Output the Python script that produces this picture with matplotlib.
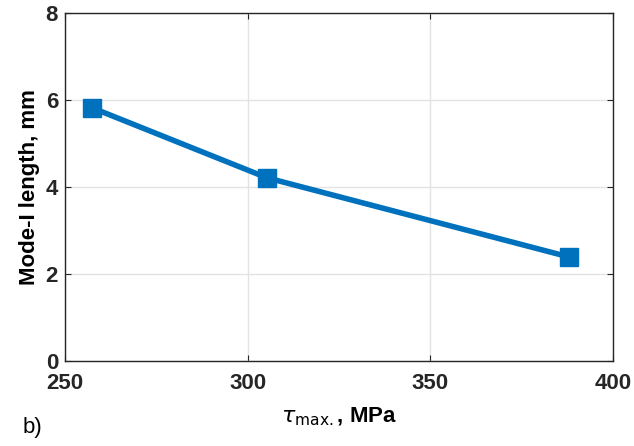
import matplotlib.pyplot as plt

plt.rcParams['font.family'] = ['Liberation Sans', 'DejaVu Sans']

tau_max = [257.4, 305.3, 388.0]
mode_length = [5.82, 4.21, 2.39]
x_ticks = [250, 300, 350, 400]
y_ticks = [0, 2, 4, 6, 8]

fig = plt.figure(figsize=(6.34, 4.46), dpi=100)
ax = fig.add_axes([0.1025, 0.1906, 0.8645, 0.7804])

ax.plot(tau_max, mode_length, color='#0072BD', lw=4, marker='s',
        markersize=13, markerfacecolor='#0072BD', markeredgecolor='#0072BD')

ax.set_xlim(250, 400)
ax.set_ylim(0, 8)
ax.set_xticks(x_ticks)
ax.set_yticks(y_ticks)
ax.grid(True, color='#e3e3e3', lw=1)
ax.set_axisbelow(True)
ax.tick_params(direction='in', top=True, right=True, length=4,
               labelsize=16, colors='#262626')
ax.tick_params(axis='x', pad=9)
ax.tick_params(axis='y', pad=5)
for lab in ax.get_xticklabels() + ax.get_yticklabels():
    lab.set_fontweight('bold')
for s in ax.spines.values():
    s.set_color('#262626')
    s.set_linewidth(1)

ax.set_ylabel('Mode-I length, mm', fontsize=16, fontweight='bold', labelpad=4)
ax.set_xlabel(r'$\tau_{\mathrm{max.}}$, MPa', fontsize=16, fontweight='bold', labelpad=8)
fig.text(0.035, 0.03, 'b)', fontsize=16)

fig.savefig('out.png', dpi=100)
